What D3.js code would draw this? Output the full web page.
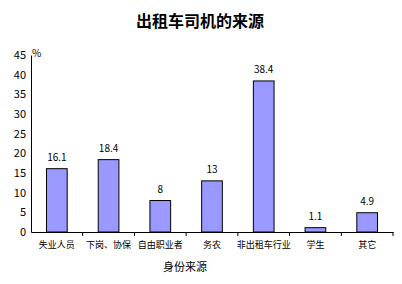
<!DOCTYPE html>
<html><head><meta charset="utf-8">
<script src="https://cdn.jsdelivr.net/npm/d3@7"></script>
<style>body{margin:0;background:#fff}svg{display:block}text{font-family:"Noto Sans CJK SC","DejaVu Sans",sans-serif}</style>
</head><body>
<svg id="c" width="402" height="284"></svg>
<script>
const categories = ["失业人员","下岗、协保","自由职业者","务农","非出租车行业","学生","其它"];
const values = [16.1, 18.4, 8, 13, 38.4, 1.1, 4.9];
const valueLabels = ["16.1","18.4","8","13","38.4","1.1","4.9"];
const yTicks = [0,5,10,15,20,25,30,35,40,45];

const svg = d3.select("#c");
const m = {l:31, r:9, t:55, b:52};
const W = 402, H = 284;
const x = d3.scaleBand().domain(categories).range([m.l, W - m.r]).paddingInner(0).paddingOuter(0);
const y = d3.scaleLinear().domain([0,45]).range([H - m.b, m.t]);

svg.append("text").attr("x", 200).attr("y", 27).attr("text-anchor","middle")
  .attr("font-size", 16).attr("font-weight","bold").text("出租车司机的来源");

// y axis
const ya = svg.append("g").attr("transform", `translate(${m.l},0)`)
  .call(d3.axisLeft(y).tickValues(yTicks).tickSize(0).tickPadding(5));
ya.select(".domain").attr("stroke","#000");
ya.selectAll("text").attr("font-size", 11).attr("font-family","'DejaVu Sans',sans-serif").attr("fill","#000");
svg.append("text").attr("x", m.l + 1).attr("y", y(45) + 2).attr("font-size", 10).text("%");

// bars
const bw = x.bandwidth() * 0.4;
svg.selectAll("rect.bar").data(values).join("rect").attr("class","bar")
  .attr("x", (d,i) => x(categories[i]) + (x.bandwidth() - bw)/2)
  .attr("y", d => y(d)).attr("width", bw).attr("height", d => y(0) - y(d))
  .attr("fill", "#9999ff").attr("stroke", "#000").attr("stroke-width", 1);

svg.selectAll("text.val").data(values).join("text").attr("class","val")
  .attr("x", (d,i) => x(categories[i]) + x.bandwidth()/2)
  .attr("y", d => y(d) - 8).attr("text-anchor","middle").attr("font-size", 10)
  .attr("font-family","'DejaVu Sans',sans-serif")
  .text((d,i) => valueLabels[i]);

// x axis
const xa = svg.append("g").attr("transform", `translate(0,${y(0)})`)
  .call(d3.axisBottom(x).tickSize(0).tickPadding(10));
xa.select(".domain").attr("stroke","#000");
xa.selectAll("text").attr("font-size", 9).attr("fill","#000");
const bounds = categories.map(c => x(c)).concat([x.range()[1]]);
svg.selectAll("line.xt").data(bounds.slice(1)).join("line").attr("class","xt")
  .attr("x1", d => d).attr("x2", d => d).attr("y1", y(0)).attr("y2", y(0) + 4).attr("stroke","#000");

svg.append("text").attr("x", 185).attr("y", 271).attr("text-anchor","middle")
  .attr("font-size", 11).text("身份来源");
</script>
</body></html>
